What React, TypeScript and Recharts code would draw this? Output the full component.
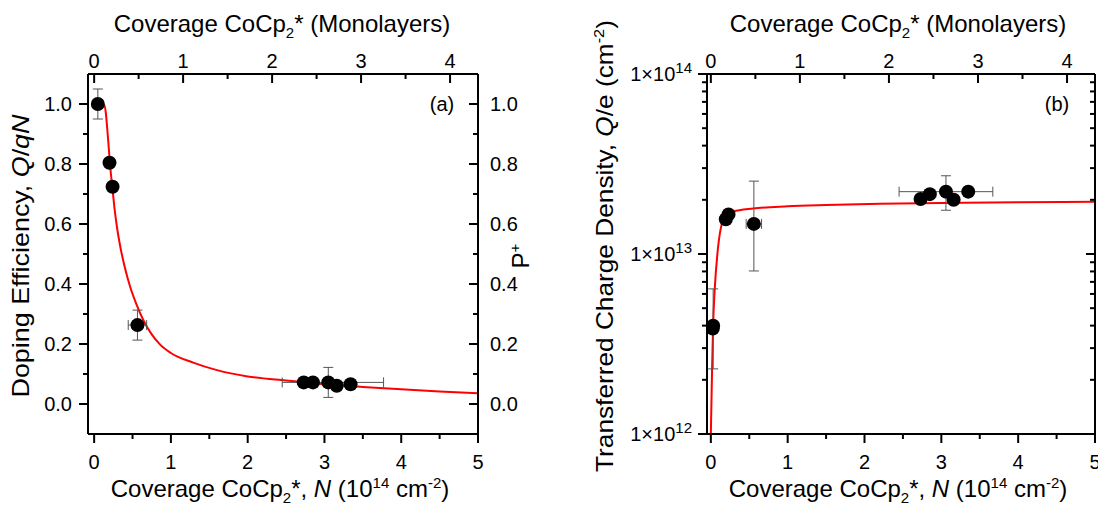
import React from 'react';
import {
  ComposedChart,
  XAxis,
  YAxis,
  Line,
  Scatter,
  ErrorBar,
  Customized
} from 'recharts';

const FONT = '"Liberation Sans", Arial, Helvetica, sans-serif';
const TICK_FONT = 20;
const TITLE_FONT = 24;
const SMALL_FONT = 15;
const N_PER_MONOLAYER = 1.159;

// ---- panel (a): doping efficiency ----
const effPointN = [0.048, 0.2, 0.24, 0.564, 2.73, 2.85, 3.05, 3.16, 3.34];
const effPointV = [1.0, 0.804, 0.724, 0.263, 0.072, 0.072, 0.072, 0.061, 0.066];

const effErrN = [0.048, 0.564, 3.05];
const effErrV = [1.0, 0.263, 0.072];
const effErrY = [0.05, 0.05, 0.05];
const effErrX: [number, number][] = [[0, 0], [0.12, 0.12], [0.6, 0.72]];

const effFitN = [0.05, 0.13, 0.15, 0.17, 0.19, 0.21, 0.24, 0.264, 0.3, 0.34, 0.4, 0.47, 0.55, 0.64, 0.75, 0.86, 1.0, 1.29, 1.6, 2.0, 2.5, 3.0, 3.5, 4.0, 4.5, 5.0];
const effFitV = [1.0, 0.997, 0.975, 0.92, 0.855, 0.79, 0.715, 0.655, 0.585, 0.525, 0.455, 0.39, 0.333, 0.28, 0.232, 0.198, 0.17, 0.138, 0.113, 0.092, 0.078, 0.066, 0.057, 0.049, 0.042, 0.036];

// ---- panel (b): transferred charge density ----
const qPointN = [0.025, 0.03, 0.195, 0.23, 0.56, 2.73, 2.85, 3.06, 3.16, 3.35];
const qPointV = [3.85e12, 4.0e12, 1.56e13, 1.66e13, 1.47e13, 2.02e13, 2.15e13, 2.22e13, 2.0e13, 2.22e13];

const qErrN = [0.03, 0.56, 3.06];
const qErrV = [4.0e12, 1.47e13, 2.22e13];
const qErrY: [number, number][] = [[1.7e12, 2.4e12], [6.65e12, 1.07e13], [4.7e12, 5.0e12]];
const qErrX: [number, number][] = [[0, 0], [0.1, 0.1], [0.61, 0.61]];

const qFitN = [0.0, 0.017, 0.03, 0.05, 0.095, 0.15, 0.204, 0.29, 0.55, 1.0, 1.5, 2.2, 3.0, 4.0, 5.0];
const qFitV = [1.0e12, 2.4e12, 4.1e12, 6.3e12, 1.1e13, 1.51e13, 1.66e13, 1.72e13, 1.79e13, 1.84e13, 1.87e13, 1.9e13, 1.92e13, 1.94e13, 1.95e13];

// ---- ticks ----
const nTicks = [0, 0.5, 1, 1.5, 2, 2.5, 3, 3.5, 4, 4.5, 5];
const nMajor = [0, 1, 2, 3, 4, 5];
const mlTicks = [0, 0.5, 1, 1.5, 2, 2.5, 3, 3.5, 4];
const mlMajor = [0, 1, 2, 3, 4];
const effTicks = [0, 0.1, 0.2, 0.3, 0.4, 0.5, 0.6, 0.7, 0.8, 0.9, 1.0];
const effMajor = [0, 0.2, 0.4, 0.6, 0.8, 1.0];
const qTicks = [
  1e12, 2e12, 3e12, 4e12, 5e12, 6e12, 7e12, 8e12, 9e12,
  1e13, 2e13, 3e13, 4e13, 5e13, 6e13, 7e13, 8e13, 9e13, 1e14
];
const qMajor = [1e12, 1e13, 1e14];

const effPoints = effPointN.map((n, i) => ({ n, v: effPointV[i] }));
const effErrors = effErrN.map((n, i) => ({ n, v: effErrV[i], ey: effErrY[i], ex: effErrX[i] }));
const effFit = effFitN.map((n, i) => ({ n, v: effFitV[i] }));
const qPoints = qPointN.map((n, i) => ({ n, v: qPointV[i] }));
const qErrors = qErrN.map((n, i) => ({ n, v: qErrV[i], ey: qErrY[i], ex: qErrX[i] }));
const qFit = qFitN.map((n, i) => ({ n, v: qFitV[i] }));

// invisible anchors so the monolayer axis gets drawn
const mlAnchorsA = mlMajor.map((m) => ({ n: m, v: 0.5 }));
const mlAnchorsB = mlMajor.map((m) => ({ n: m, v: 1e13 }));

type Side = 'left' | 'right' | 'top' | 'bottom';

function isIn(list: number[], v: number) {
  return list.some((m) => Math.abs(m - v) <= 1e-9 * Math.max(1, Math.abs(m)));
}

function makeTick(
  side: Side,
  inward: boolean,
  majors: number[],
  fmt: ((v: number) => React.ReactNode) | null,
  off: number
) {
  return function TickMark(props: any) {
    const { x, y, payload } = props;
    const v = payload.value;
    const major = isIn(majors, v);
    const len = major ? 9 : 5;
    const dir = inward ? -1 : 1;
    let x2 = x;
    let y2 = y;
    if (side === 'left') x2 = x - dir * len;
    if (side === 'right') x2 = x + dir * len;
    if (side === 'top') y2 = y - dir * len;
    if (side === 'bottom') y2 = y + dir * len;
    let label: React.ReactNode = null;
    if (major && fmt) {
      const common = { fontFamily: FONT, fontSize: TICK_FONT, fill: '#000' };
      if (side === 'left')
        label = <text {...common} x={x - off} y={y} dy="0.36em" textAnchor="end">{fmt(v)}</text>;
      if (side === 'right')
        label = <text {...common} x={x + off} y={y} dy="0.36em" textAnchor="start">{fmt(v)}</text>;
      if (side === 'top')
        label = <text {...common} x={x} y={y - off} textAnchor="middle">{fmt(v)}</text>;
      if (side === 'bottom')
        label = <text {...common} x={x} y={y + off} textAnchor="middle">{fmt(v)}</text>;
    }
    return (
      <g>
        <line x1={x} y1={y} x2={x2} y2={y2} stroke="#000" strokeWidth={2} />
        {label}
      </g>
    );
  };
}

const intFmt = (v: number) => String(Math.round(v));
const oneDec = (v: number) => v.toFixed(1);
const powFmt = (v: number) => (
  <>
    <tspan>1×10</tspan>
    <tspan dy={-8} fontSize={SMALL_FONT}>{Math.round(Math.log10(v))}</tspan>
  </>
);

const Dot = (props: any) => <circle cx={props.cx} cy={props.cy} r={7} fill="#000" />;
const NoDot = () => <g />;

const titleProps = { fontFamily: FONT, fontSize: TITLE_FONT, fill: '#000', textAnchor: 'middle' as const };

const TopTitle = ({ x }: { x: number }) => (
  <text {...titleProps} x={x} y={32}>
    Coverage CoCp<tspan dy={6} fontSize={SMALL_FONT}>2</tspan>
    <tspan dy={-6}>* (Monolayers)</tspan>
  </text>
);

const BottomTitle = ({ x }: { x: number }) => (
  <text {...titleProps} x={x} y={497}>
    Coverage CoCp<tspan dy={6} fontSize={SMALL_FONT}>2</tspan>
    <tspan dy={-6}>*, </tspan>
    <tspan fontStyle="italic">N</tspan>
    <tspan> (10</tspan>
    <tspan dy={-9} fontSize={SMALL_FONT}>14</tspan>
    <tspan dy={9}> cm</tspan>
    <tspan dy={-9} fontSize={SMALL_FONT}>-2</tspan>
    <tspan dy={9}>)</tspan>
  </text>
);

const PanelAText = () => (
  <g>
    <TopTitle x={282} />
    <BottomTitle x={280} />
    <text {...titleProps} transform="translate(29,256) rotate(-90)" textLength={283} lengthAdjust="spacingAndGlyphs">
      Doping Efficiency, <tspan fontStyle="italic">Q</tspan>/<tspan fontStyle="italic">qN</tspan>
    </text>
    <text {...titleProps} transform="translate(529,256) rotate(-90)">
      P<tspan dy={-9} fontSize={SMALL_FONT}>+</tspan>
    </text>
    <text fontFamily={FONT} fontSize={TICK_FONT} fill="#000" x={442} y={111} textAnchor="middle">
      (a)
    </text>
  </g>
);

const PanelBText = () => (
  <g>
    <TopTitle x={349} />
    <BottomTitle x={349} />
    <text {...titleProps} transform="translate(64,246) rotate(-90)" textLength={452} lengthAdjust="spacingAndGlyphs">
      Transferred Charge Density, <tspan fontStyle="italic">Q</tspan>/e (cm
      <tspan dy={-9} fontSize={SMALL_FONT}>-2</tspan>
      <tspan dy={9}>)</tspan>
    </text>
    <text fontFamily={FONT} fontSize={TICK_FONT} fill="#000" x={508} y={111} textAnchor="middle">
      (b)
    </text>
  </g>
);

const axisLine = { stroke: '#000', strokeWidth: 2 };
const ERR = '#555';
const CHART_W = 549;
const CHART_H = 506;

function PanelA() {
  const xDom: [number, number] = [-0.08, 5];
  return (
    <ComposedChart width={CHART_W} height={CHART_H} margin={{ top: 0, right: 0, bottom: 0, left: 0 }}>
      <XAxis
        xAxisId="b" type="number" dataKey="n" orientation="bottom" height={72}
        domain={xDom} allowDataOverflow ticks={nTicks} interval={0}
        tickSize={0} tickMargin={0} tickLine={false} axisLine={axisLine}
        tick={makeTick('bottom', false, nMajor, intFmt, 35)}
      />
      <XAxis
        xAxisId="t" type="number" dataKey="n" orientation="top" height={74}
        domain={[xDom[0] / N_PER_MONOLAYER, xDom[1] / N_PER_MONOLAYER]} allowDataOverflow
        ticks={mlTicks} interval={0}
        tickSize={0} tickMargin={0} tickLine={false} axisLine={axisLine}
        tick={makeTick('top', true, mlMajor, intFmt, 6)}
      />
      <YAxis
        yAxisId="l" type="number" dataKey="v" orientation="left" width={88}
        domain={[-0.1, 1.1]} allowDataOverflow ticks={effTicks} interval={0}
        tickSize={0} tickMargin={0} tickLine={false} axisLine={axisLine}
        tick={makeTick('left', false, effMajor, oneDec, 16)}
      />
      <YAxis
        yAxisId="r" type="number" dataKey="v" orientation="right" width={71}
        domain={[-0.1, 1.1]} allowDataOverflow ticks={effTicks} interval={0}
        tickSize={0} tickMargin={0} tickLine={false} axisLine={axisLine}
        tick={makeTick('right', true, effMajor, oneDec, 12)}
      />
      <Scatter xAxisId="t" yAxisId="r" data={mlAnchorsA} dataKey="v" shape={NoDot} isAnimationActive={false} />
      <Line
        xAxisId="b" yAxisId="l" data={effFit} dataKey="v" type="monotone"
        stroke="#ff0000" strokeWidth={2} dot={false} isAnimationActive={false}
      />
      <Scatter xAxisId="b" yAxisId="l" data={effErrors} dataKey="v" shape={NoDot} isAnimationActive={false}>
        <ErrorBar dataKey="ey" direction="y" width={5} stroke={ERR} strokeWidth={1} isAnimationActive={false} />
        <ErrorBar dataKey="ex" direction="x" width={5} stroke={ERR} strokeWidth={1} isAnimationActive={false} />
      </Scatter>
      <Scatter xAxisId="b" yAxisId="l" data={effPoints} dataKey="v" shape={Dot} isAnimationActive={false} />
      <Customized component={PanelAText} />
    </ComposedChart>
  );
}

function PanelB() {
  const xDom: [number, number] = [-0.05, 5];
  return (
    <ComposedChart width={CHART_W} height={CHART_H} margin={{ top: 0, right: 0, bottom: 0, left: 0 }}>
      <XAxis
        xAxisId="b" type="number" dataKey="n" orientation="bottom" height={72}
        domain={xDom} allowDataOverflow ticks={nTicks} interval={0}
        tickSize={0} tickMargin={0} tickLine={false} axisLine={axisLine}
        tick={makeTick('bottom', false, nMajor, intFmt, 35)}
      />
      <XAxis
        xAxisId="t" type="number" dataKey="n" orientation="top" height={74}
        domain={[xDom[0] / N_PER_MONOLAYER, xDom[1] / N_PER_MONOLAYER]} allowDataOverflow
        ticks={mlTicks} interval={0}
        tickSize={0} tickMargin={0} tickLine={false} axisLine={axisLine}
        tick={makeTick('top', true, mlMajor, intFmt, 6)}
      />
      <YAxis
        yAxisId="l" type="number" dataKey="v" orientation="left" width={158} scale="log"
        domain={[1e12, 1e14]} allowDataOverflow ticks={qTicks} interval={0}
        tickSize={0} tickMargin={0} tickLine={false} axisLine={axisLine}
        tick={makeTick('left', false, qMajor, powFmt, 15)}
      />
      <YAxis
        yAxisId="r" type="number" dataKey="v" orientation="right" width={3} scale="log"
        domain={[1e12, 1e14]} allowDataOverflow ticks={qTicks} interval={0}
        tickSize={0} tickMargin={0} tickLine={false} axisLine={axisLine}
        tick={makeTick('right', true, qMajor, null, 0)}
      />
      <Scatter xAxisId="t" yAxisId="r" data={mlAnchorsB} dataKey="v" shape={NoDot} isAnimationActive={false} />
      <Line
        xAxisId="b" yAxisId="l" data={qFit} dataKey="v" type="monotone"
        stroke="#ff0000" strokeWidth={2} dot={false} isAnimationActive={false}
      />
      <Scatter xAxisId="b" yAxisId="l" data={qErrors} dataKey="v" shape={NoDot} isAnimationActive={false}>
        <ErrorBar dataKey="ey" direction="y" width={5} stroke={ERR} strokeWidth={1} isAnimationActive={false} />
        <ErrorBar dataKey="ex" direction="x" width={5} stroke={ERR} strokeWidth={1} isAnimationActive={false} />
      </Scatter>
      <Scatter xAxisId="b" yAxisId="l" data={qPoints} dataKey="v" shape={Dot} isAnimationActive={false} />
      <Customized component={PanelBText} />
    </ComposedChart>
  );
}

export default function App() {
  return (
    <div
      style={{
        position: 'absolute', left: 0, top: 0, width: 1098, height: 506,
        display: 'flex', background: '#fff'
      }}
    >
      <PanelA />
      <PanelB />
    </div>
  );
}
